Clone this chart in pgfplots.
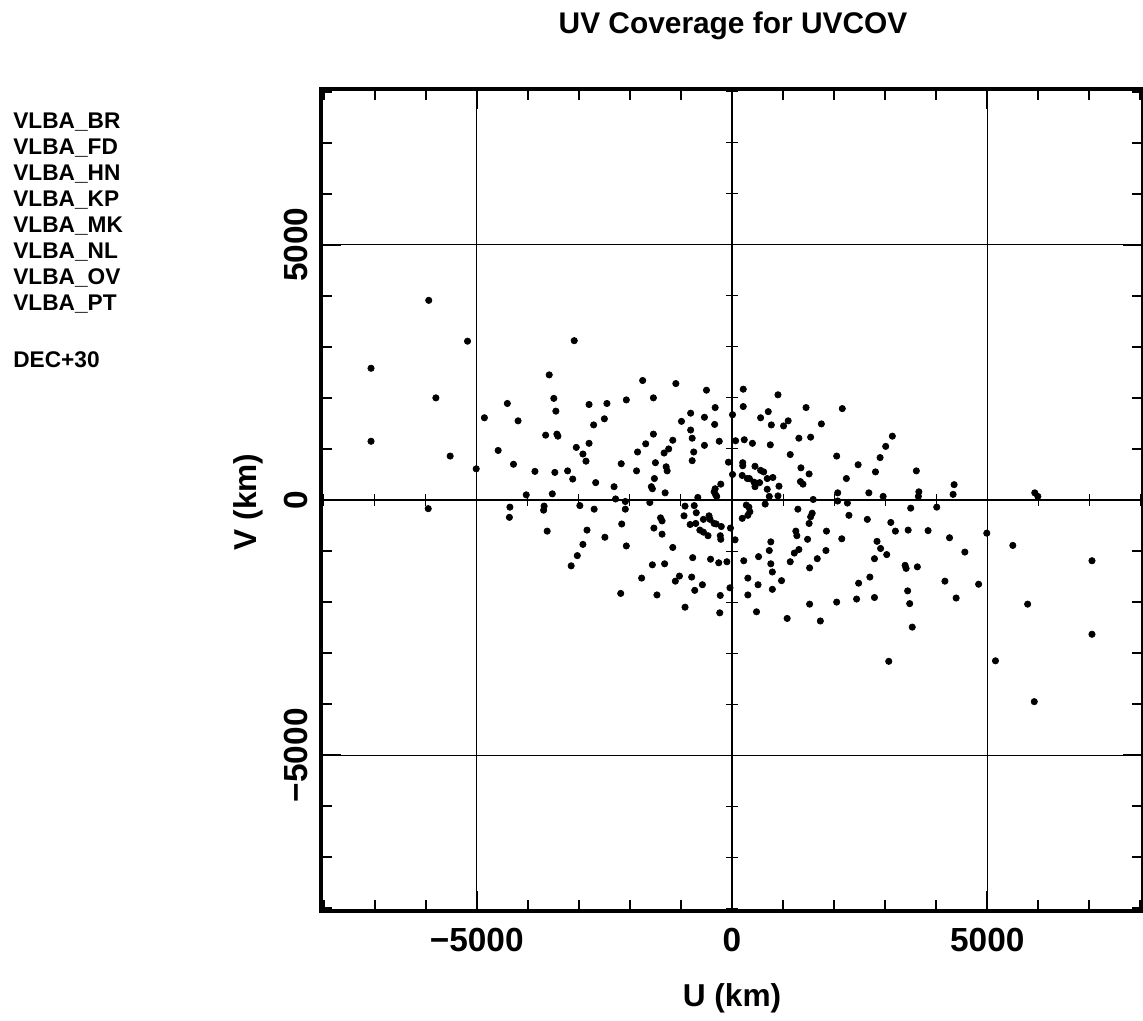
\documentclass[border=0pt]{standalone}
\usepackage{fontspec}
\setmainfont{Liberation Sans}
\usepackage{pgfplots}
\pgfplotsset{compat=1.18}
\usepackage{pgfplotstable}

% u, v in km
\pgfplotstableread{
u v
-5940 3910
-5180 3110
-7070 2580
-5800 2000
-4400 1890
-4850 1610
-4190 1550
-3650 1270
-3580 2450
-7070 1150
-4580 970
-5520 860
-4280 700
-3860 560
-5010 610
-4030 100
-3090 3120
-1750 2340
-1100 2280
-500 2150
-3490 1990
-3450 1740
-2800 1870
-2450 1890
-2070 1960
-1540 2000
10 1670
-330 1810
-810 1700
-540 1620
-990 1540
-340 1480
-2710 1470
-2500 1590
-3430 1290
-3410 1250
-1540 1290
-810 1370
-780 1210
-1160 1170
-250 1150
70 1160
-540 1070
-1690 1100
-2800 1110
-3050 1030
-2920 900
-1850 940
-1240 1000
-1330 920
-750 940
-2860 760
-2170 710
-1500 730
-780 770
-70 740
-1290 650
-1270 570
-1870 570
-3470 540
-3220 570
-3120 410
10 500
-1520 420
-1580 260
-1560 220
-2670 340
-2310 260
-1310 140
-3520 120
-2280 20
-670 50
-220 310
-330 220
-350 160
-320 100
-300 70
220 2170
900 2060
220 1830
1450 1810
2160 1790
560 1610
710 1730
770 1470
1010 1450
1100 1550
1750 1490
240 1180
400 1110
750 1080
1310 1210
1540 1230
1140 890
2050 860
3140 1250
3010 1050
2900 830
2470 690
2810 550
3610 570
210 730
210 670
450 660
560 580
620 550
200 480
300 420
340 420
430 350
450 260
540 340
690 420
800 440
1350 630
1510 510
1340 360
1390 310
920 270
690 210
2240 420
2070 140
2680 140
2960 70
3660 160
3650 70
730 70
900 80
1590 10
4350 300
4330 110
5930 140
5990 70
-5950 -170
-4350 -140
-4360 -340
-3680 -120
-3690 -200
-3620 -610
-2980 -110
-2700 -180
-2090 -30
-2090 -180
-1610 -50
-920 -120
-740 -110
-940 -310
-700 -250
-820 -480
-710 -460
-560 -380
-450 -310
-430 -380
-350 -460
-310 -470
-210 -520
-630 -590
-560 -630
-470 -700
-230 -700
-220 -770
-30 -550
60 -780
-1400 -350
-1370 -410
-1530 -550
-1370 -670
-2160 -470
-2840 -590
-2490 -730
-2920 -870
-2070 -900
-3030 -1090
-3150 -1290
-1160 -930
-770 -1130
-420 -1160
-260 -1230
-100 -1210
-1560 -1270
-1320 -1250
-1770 -1530
-1030 -1490
-1110 -1590
-790 -1510
-580 -1660
-730 -1770
-40 -1720
-2180 -1830
-1470 -1860
-230 -1870
-920 -2100
-240 -2210
280 -100
330 -140
350 -230
310 -300
200 -360
650 -80
1290 -180
2070 -20
2260 -60
1570 -260
1540 -330
1510 -460
2290 -300
2650 -380
3110 -440
3200 -610
3500 -160
3450 -590
3840 -600
1250 -610
1270 -700
1850 -610
760 -820
730 -990
1480 -770
1310 -970
1220 -1040
2150 -760
1840 -990
1670 -1150
1140 -1210
1520 -1330
230 -1190
520 -1110
760 -1250
790 -1410
310 -1530
510 -1660
970 -1580
790 -1750
310 -1860
480 -2190
1080 -2320
1520 -2040
1730 -2370
2050 -2000
2480 -1630
2440 -1940
2700 -1510
2790 -1910
2840 -810
2910 -950
2790 -1150
3030 -1070
3390 -1280
3410 -1340
3630 -1310
3440 -1780
3480 -2030
3530 -2490
3070 -3160
4010 -140
4260 -740
4560 -1020
4990 -650
5500 -890
7050 -1190
4170 -1590
4830 -1650
4390 -1920
5790 -2040
7050 -2630
5160 -3150
5920 -3950
}\uvdata

\newcommand{\tickfont}{\fontsize{19}{19}\selectfont\bfseries}
\newcommand{\labfont}{\fontsize{18}{18}\selectfont\bfseries}

\begin{document}
\begin{tikzpicture}
% zero axes with their own small ticks
\begin{axis}[
    at={(0,0)}, anchor=south west,
    width=16.44cm, height=16.44cm, scale only axis,
    xmin=-8050, xmax=8050, ymin=-8050, ymax=8050,
    axis lines=middle,
    axis line style={-, line width=0.6pt},
    xtick={-8000,-7000,...,8000},
    ytick={-8000,-7000,...,8000},
    xticklabels={}, yticklabels={},
    tick align=center,
    major tick length=0.24cm,
    tick style={black, line width=0.6pt},
]
\end{axis}
\begin{axis}[
    at={(0,0)}, anchor=south west,
    width=16.44cm, height=16.44cm, scale only axis,
    xmin=-8050, xmax=8050, ymin=-8050, ymax=8050,
    axis line style={line width=2.2pt},
    tick pos=both,
    xticklabel pos=lower, yticklabel pos=left,
    xtick={-5000,0,5000}, ytick={-5000,0,5000},
    xticklabels={−5000,0,5000}, yticklabels={−5000,0,5000},
    minor xtick={-8000,-7000,...,8000},
    minor ytick={-8000,-7000,...,8000},
    tick align=inside,
    major tick length=0.4cm, minor tick length=0.22cm,
    tick style={black, line width=1.2pt},
    grid=major,
    major grid style={black, line width=0.6pt},
    xticklabel style={font=\tickfont, anchor=base, yshift=-0.82cm},
    yticklabel style={font=\tickfont, rotate=90, anchor=base, yshift=0.26cm},
    clip=false,
]
\addplot[only marks, mark=*, mark size=1.8pt, black] table[x=u, y=v] {\uvdata};
\end{axis}

\node[anchor=base, font=\fontsize{17}{17}\selectfont\bfseries] at (8.24,17.54) {UV Coverage for UVCOV};
\node[anchor=base, font=\labfont] at (8.22,-1.92) {U (km)};
\node[anchor=base, rotate=90, font=\labfont] at (-1.28,8.18) {V (km)};

\begin{scope}[every node/.style={anchor=base west, inner sep=0pt, font=\fontsize{12.9}{12.9}\selectfont\bfseries}]
\node at (-6.16,15.64) {VLBA\_BR};
\node at (-6.16,15.12) {VLBA\_FD};
\node at (-6.16,14.60) {VLBA\_HN};
\node at (-6.16,14.08) {VLBA\_KP};
\node at (-6.16,13.56) {VLBA\_MK};
\node at (-6.16,13.04) {VLBA\_NL};
\node at (-6.16,12.52) {VLBA\_OV};
\node at (-6.16,12.00) {VLBA\_PT};
\node at (-6.16,10.86) {DEC+30};
\end{scope}

\pgfresetboundingbox
\path (-6.42,-2.2) rectangle (16.44,18.22);
\end{tikzpicture}
\end{document}
